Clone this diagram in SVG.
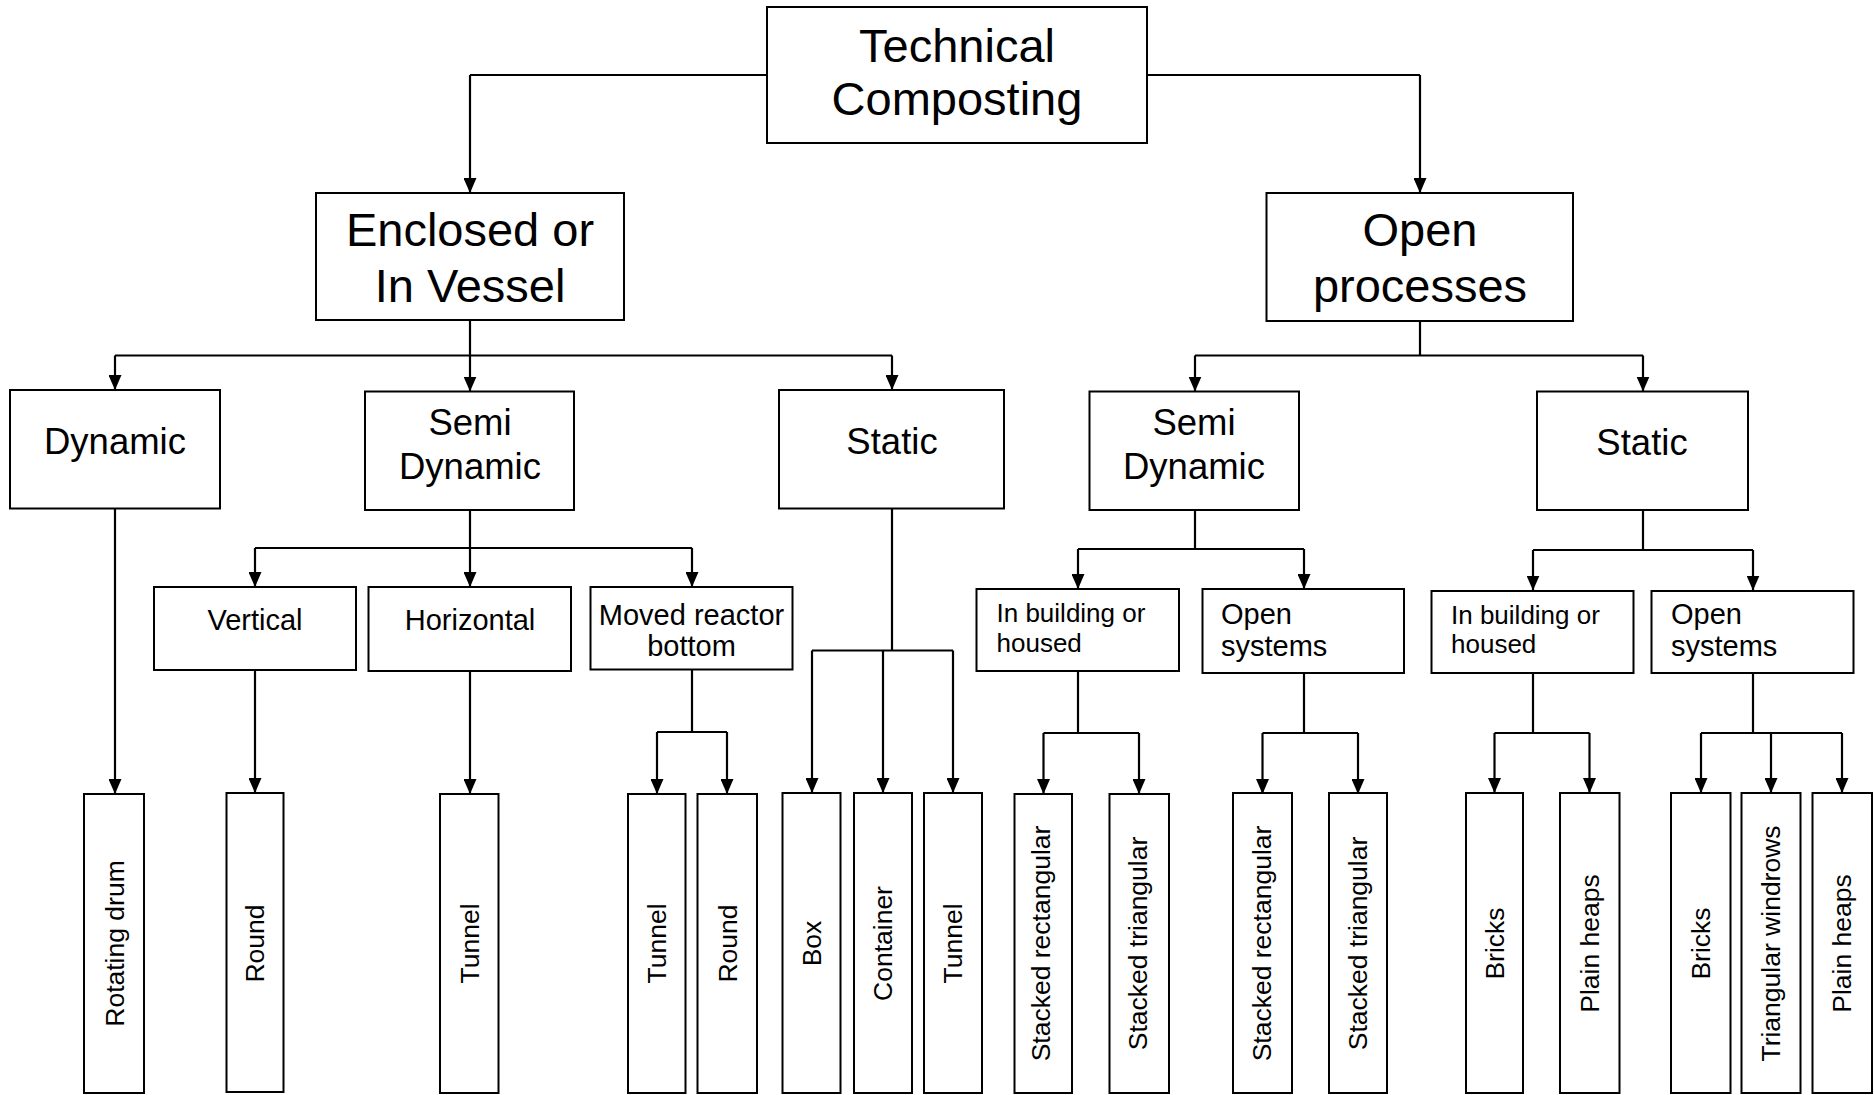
<svg xmlns="http://www.w3.org/2000/svg" width="1874" height="1095" viewBox="0 0 1874 1095">
<style>
.box{fill:#fff;stroke:#000;stroke-width:2}
.t{font-family:"Liberation Sans",Arial,sans-serif;fill:#000}
.c{text-anchor:middle}
.f47{font-size:47px}
.f36{font-size:36.5px}
.f29{font-size:29px}
.f26{font-size:26px}
.leaf{font-size:26.5px;text-anchor:middle}
.con path{fill:none;stroke:#000;stroke-width:2.2}
.con path.a{marker-end:url(#arr)}
</style>
<defs>
<marker id="arr" viewBox="0 0 15 13" refX="15" refY="6.5" markerWidth="15" markerHeight="13" markerUnits="userSpaceOnUse" orient="auto">
<path d="M0,0 L15,6.5 L0,13 z" fill="#000"/>
</marker>
</defs>
<rect width="1874" height="1095" fill="#fff"/>

<g id="connectors" class="con">
<path d="M767,75 H470"/><path class="a" d="M470,75 V193"/>
<path d="M1147,75 H1420"/><path class="a" d="M1420,75 V193"/>
<path d="M470,320 V355.5 M115,355.5 H892"/>
<path class="a" d="M115,355.5 V390"/><path class="a" d="M470,355.5 V391.5"/><path class="a" d="M892,355.5 V390"/>
<path d="M1420,321 V355.5 M1195,355.5 H1643"/>
<path class="a" d="M1195,355.5 V391.5"/><path class="a" d="M1643,355.5 V391.5"/>
<path class="a" d="M115,509 V794"/>
<path d="M470,510 V548 M255,548 H692"/>
<path class="a" d="M255,548 V587"/><path class="a" d="M470,548 V587"/><path class="a" d="M692,548 V587"/>
<path class="a" d="M255,670 V793"/>
<path class="a" d="M470,671 V794"/>
<path d="M692,670 V732 M657,732 H727"/>
<path class="a" d="M657,732 V794"/><path class="a" d="M727,732 V794"/>
<path d="M892,509 V650.5 M812,650.5 H953"/>
<path class="a" d="M812,650.5 V793"/><path class="a" d="M883,650.5 V793"/><path class="a" d="M953,650.5 V793"/>
<path d="M1195,510 V549 M1078,549 H1304"/>
<path class="a" d="M1078,549 V589"/><path class="a" d="M1304,549 V589"/>
<path d="M1643,510 V550 M1533,550 H1753"/>
<path class="a" d="M1533,550 V590.5"/><path class="a" d="M1753,550 V590.5"/>
<path d="M1078,671 V733 M1043.5,733 H1139"/>
<path class="a" d="M1043.5,733 V794"/><path class="a" d="M1139,733 V794"/>
<path d="M1304,673 V733 M1262.5,733 H1358"/>
<path class="a" d="M1262.5,733 V794"/><path class="a" d="M1358,733 V794"/>
<path d="M1533,673 V733 M1494.5,733 H1589.5"/>
<path class="a" d="M1494.5,733 V793"/><path class="a" d="M1589.5,733 V793"/>
<path d="M1753,673 V733 M1701,733 H1842"/>
<path class="a" d="M1701,733 V793"/><path class="a" d="M1771,733 V793"/><path class="a" d="M1842,733 V793"/>
</g>

<g id="technical-composting"><rect class="box" x="767" y="7" width="380" height="136"/>
<text class="t c f47" x="957" y="62">Technical</text><text class="t c f47" x="957" y="115">Composting</text></g>

<g id="enclosed"><rect class="box" x="316" y="193" width="308" height="127"/>
<text class="t c f47" x="470" y="246">Enclosed or</text><text class="t c f47" x="470" y="302">In Vessel</text></g>

<g id="open-processes"><rect class="box" x="1266.5" y="193" width="306.5" height="128"/>
<text class="t c f47" x="1420" y="246">Open</text><text class="t c f47" x="1420" y="302">processes</text></g>

<g id="dynamic"><rect class="box" x="10" y="390" width="210" height="118.5"/>
<text class="t c f36" x="115" y="454">Dynamic</text></g>

<g id="semi-dynamic-1"><rect class="box" x="365" y="391.5" width="209" height="118.5"/>
<text class="t c f36" x="470" y="435">Semi</text><text class="t c f36" x="470" y="479">Dynamic</text></g>

<g id="static-1"><rect class="box" x="779" y="390" width="225" height="118.5"/>
<text class="t c f36" x="892" y="454">Static</text></g>

<g id="semi-dynamic-2"><rect class="box" x="1089.5" y="391.5" width="209.5" height="118.5"/>
<text class="t c f36" x="1194" y="435">Semi</text><text class="t c f36" x="1194" y="479">Dynamic</text></g>

<g id="static-2"><rect class="box" x="1537" y="391.5" width="211" height="118.5"/>
<text class="t c f36" x="1642" y="455">Static</text></g>

<g id="vertical"><rect class="box" x="154" y="587" width="202" height="83"/>
<text class="t c f29" x="255" y="630">Vertical</text></g>

<g id="horizontal"><rect class="box" x="368.5" y="587" width="202.5" height="84"/>
<text class="t c f29" x="470" y="630">Horizontal</text></g>

<g id="moved-reactor"><rect class="box" x="590.5" y="587" width="202" height="82.5"/>
<text class="t c f29" x="691.5" y="625">Moved reactor</text><text class="t c f29" x="691.5" y="656">bottom</text></g>

<g id="in-building-1"><rect class="box" x="976.5" y="589" width="202.5" height="82"/>
<text class="t f26" x="996.5" y="621.5">In building or</text><text class="t f26" x="996.5" y="651.5">housed</text></g>

<g id="open-systems-1"><rect class="box" x="1202.5" y="589" width="201.5" height="84"/>
<text class="t f29" x="1221" y="623.5">Open</text><text class="t f29" x="1221" y="656">systems</text></g>

<g id="in-building-2"><rect class="box" x="1431.5" y="591" width="202" height="82"/>
<text class="t f26" x="1451" y="623.5">In building or</text><text class="t f26" x="1451" y="652.5">housed</text></g>

<g id="open-systems-2"><rect class="box" x="1651.5" y="591" width="202" height="82"/>
<text class="t f29" x="1671" y="623.5">Open</text><text class="t f29" x="1671" y="656">systems</text></g>

<g id="leaf-rotating-drum"><rect class="box" x="84" y="794" width="60" height="299"/>
<text class="t leaf" transform="translate(123.5,943.5) rotate(-90)">Rotating drum</text></g>
<g id="leaf-round-1"><rect class="box" x="226.5" y="793" width="57" height="299"/>
<text class="t leaf" transform="translate(264,943.5) rotate(-90)">Round</text></g>
<g id="leaf-tunnel-1"><rect class="box" x="440" y="794" width="58.5" height="299"/>
<text class="t leaf" transform="translate(478.5,943.5) rotate(-90)">Tunnel</text></g>
<g id="leaf-tunnel-2"><rect class="box" x="628" y="794" width="57.5" height="299"/>
<text class="t leaf" transform="translate(666,943.5) rotate(-90)">Tunnel</text></g>
<g id="leaf-round-2"><rect class="box" x="697.5" y="794" width="59.5" height="299"/>
<text class="t leaf" transform="translate(736.5,943.5) rotate(-90)">Round</text></g>
<g id="leaf-box"><rect class="box" x="782.5" y="793" width="58" height="300"/>
<text class="t leaf" transform="translate(820.5,943.5) rotate(-90)">Box</text></g>
<g id="leaf-container"><rect class="box" x="854" y="793" width="58" height="300"/>
<text class="t leaf" transform="translate(892,943.5) rotate(-90)">Container</text></g>
<g id="leaf-tunnel-3"><rect class="box" x="924" y="793" width="58" height="300"/>
<text class="t leaf" transform="translate(962,943.5) rotate(-90)">Tunnel</text></g>
<g id="leaf-stacked-rect-1"><rect class="box" x="1014.5" y="794" width="57.5" height="299"/>
<text class="t leaf" transform="translate(1050,943.5) rotate(-90)">Stacked rectangular</text></g>
<g id="leaf-stacked-tri-1"><rect class="box" x="1109.5" y="794" width="59.5" height="299"/>
<text class="t leaf" transform="translate(1146.5,943.5) rotate(-90)">Stacked triangular</text></g>
<g id="leaf-stacked-rect-2"><rect class="box" x="1233" y="793" width="59" height="300"/>
<text class="t leaf" transform="translate(1271,943.5) rotate(-90)">Stacked rectangular</text></g>
<g id="leaf-stacked-tri-2"><rect class="box" x="1329" y="793" width="58" height="300"/>
<text class="t leaf" transform="translate(1367,943.5) rotate(-90)">Stacked triangular</text></g>
<g id="leaf-bricks-1"><rect class="box" x="1466" y="793" width="57" height="300"/>
<text class="t leaf" transform="translate(1503.5,943.5) rotate(-90)">Bricks</text></g>
<g id="leaf-plain-heaps-1"><rect class="box" x="1560" y="793" width="59.5" height="300"/>
<text class="t leaf" transform="translate(1598.5,943.5) rotate(-90)">Plain heaps</text></g>
<g id="leaf-bricks-2"><rect class="box" x="1671" y="793" width="59.5" height="300"/>
<text class="t leaf" transform="translate(1710,943.5) rotate(-90)">Bricks</text></g>
<g id="leaf-triangular-windrows"><rect class="box" x="1741.5" y="793" width="59" height="300"/>
<text class="t leaf" transform="translate(1780,943.5) rotate(-90)">Triangular windrows</text></g>
<g id="leaf-plain-heaps-2"><rect class="box" x="1812.5" y="793" width="59.5" height="300"/>
<text class="t leaf" transform="translate(1851,943.5) rotate(-90)">Plain heaps</text></g>
</svg>
